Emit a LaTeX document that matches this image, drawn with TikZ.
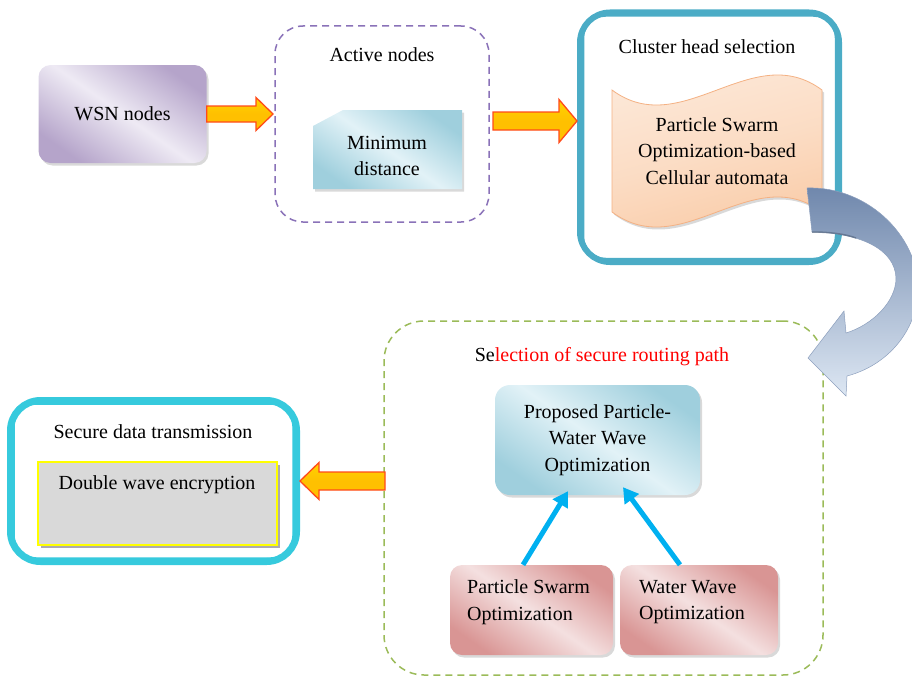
\documentclass[tikz,border=0pt]{standalone}
\usepackage{fontspec}
\setmainfont{Liberation Serif}
\usetikzlibrary{shadows,arrows.meta,calc}
\definecolor{orfill}{HTML}{FFC000}
\definecolor{orline}{HTML}{FF4A1A}
\definecolor{purpD}{HTML}{B5A4CA}
\definecolor{purpL}{HTML}{EEEAF4}
\definecolor{purpdash}{HTML}{8A72B8}
\definecolor{bluD}{HTML}{9FCFDD}
\definecolor{bluL}{HTML}{E2F2F7}
\definecolor{tealc}{HTML}{4BACC6}
\definecolor{tapeL}{HTML}{FDEBDD}
\definecolor{tapeD}{HTML}{F9C7A0}
\definecolor{tapeE}{HTML}{F4B183}
\definecolor{arrD}{HTML}{6F87AC}
\definecolor{arrL}{HTML}{DDE7F3}
\definecolor{grnc}{HTML}{9BBB59}
\definecolor{redD}{HTML}{D99594}
\definecolor{redL}{HTML}{F4E0E0}
\definecolor{skyc}{HTML}{00B0F0}
\definecolor{cyanc}{HTML}{36CADD}
\definecolor{grayf}{HTML}{D9D9D9}
\definecolor{yelc}{HTML}{FFFF00}
\newcommand{\blockarr}[5]{%
  \draw[blockarrow] ($#1+(0,-#3)$) -- ($#2+(#5,-#3)$) -- ($#2+(#5,-#4)$) -- #2
    -- ($#2+(#5,#4)$) -- ($#2+(#5,#3)$) -- ($#1+(0,#3)$) -- cycle;}
\begin{document}
\begin{tikzpicture}[x=1pt,y=-1pt,
  every node/.style={font=\rmfamily\fontsize{20}{26.5}\selectfont, inner sep=0pt},
  softshadow/.style={drop shadow={shadow xshift=2pt, shadow yshift=-2.5pt, opacity=0.3}},
  blockarrow/.style={top color=orfill!70!yellow, bottom color=orfill, middle color=orfill, draw=orline, line width=1.3pt, line join=miter},
  purplebox/.style={rounded corners=12pt, top color=purpD, bottom color=purpD, middle color=purpL, shading angle=-35, softshadow},
  bluebox/.style={top color=bluD, bottom color=bluD, middle color=bluL, shading angle=-35, softshadow},
  redbox/.style={rounded corners=12pt, top color=redD, bottom color=redD, middle color=redL, shading angle=-35, softshadow},
  dashcont/.style={dash pattern=on 7pt off 5pt, line width=1.5pt},
  skyarrow/.style={draw=skyc, line width=5pt, -{Triangle[length=15pt,width=17pt]}},
]
\useasboundingbox (0,0) rectangle (912,677);

% ---------- top row ----------
\node[purplebox, minimum width=168pt, minimum height=98pt] (wsn) at (122.5,114) {WSN nodes};

\node[draw=purpdash, dashcont, rounded corners=28pt, minimum width=214pt, minimum height=196pt] (act) at (382,124) {};
\node (actt) at (382,55) {Active nodes};

\path[bluebox] (313,126) -- (343,110) -- (462,110) -- (462,189) -- (313,189) -- cycle;
\node[align=center, minimum width=149pt, minimum height=79pt] (mind) at (387,156) {Minimum\\distance};

% cluster head box
\node[draw=tealc, line width=6pt, rounded corners=30pt, minimum width=259pt, minimum height=249.5pt] (cl) at (709.5,137.25) {};
\draw[tealc, line width=1.5pt, rounded corners=22pt] ($(cl.north west)+(6.5,6.5)$) rectangle ($(cl.south east)+(-6.5,-6.5)$);
\node (clt) at (707,47) {Cluster head selection};

\shade[top color=tapeL, bottom color=tapeD, middle color=tapeL!60!tapeD, shading angle=15, draw=tapeE, line width=0.8pt, softshadow]
  (612,90) .. controls (682,142) and (752,38) .. (822,90) -- (822,212)
  .. controls (752,160) and (682,264) .. (612,212) -- cycle;
\node[align=center] (psoca) at (717,151) {Particle Swarm\\Optimization-based\\Cellular automata};

% block arrows top
\coordinate (a1s) at (wsn.east);
\coordinate (a1t) at (273,114);
\blockarr{(a1s)}{(a1t)}{8}{16.5}{-17}
\coordinate (a2s) at (493,121);
\coordinate (a2t) at (a2s -| cl.west);
\blockarr{(a2s)}{(a2t)}{9}{21.5}{-18}

% ---------- bottom: selection of secure routing path ----------
\node[draw=grnc, dashcont, rounded corners=40pt, minimum width=439pt, minimum height=354pt] (sel) at (603.5,498) {};
\node (selt) at (602,357) {Se\textcolor{red}{lection of secure routing path}};

\node[bluebox, rounded corners=15pt, minimum width=205pt, minimum height=110pt, align=center] (prop) at (597.5,440) {Proposed Particle-\\Water Wave\\Optimization};

\node[redbox, minimum width=163pt, minimum height=90pt] (psoB) at (531.5,610) {};
\node[anchor=west, align=left] (psoBt) at (467,602) {Particle Swarm\\Optimization};
\node[redbox, minimum width=158pt, minimum height=90pt] (wwoB) at (699,610) {};
\node[anchor=west, align=left] (wwoBt) at (639,602) {Water Wave\\Optimization};

\draw[skyarrow] ($(psoB.north)+(-8.5,0)$) -- ($(prop.south)+(-29.5,-4)$);
\draw[skyarrow] ($(wwoB.north)+(-19,0)$) -- ($(prop.south)+(25.5,-8)$);

% ---------- secure data transmission ----------
\node[draw=cyanc, line width=7pt, rounded corners=30pt, minimum width=286pt, minimum height=161pt] (sec) at (153.5,481) {};
\draw[cyanc, line width=1.5pt, rounded corners=22pt] ($(sec.north west)+(7,7)$) rectangle ($(sec.south east)+(-7,-7)$);
\node (sect) at (153,432) {Secure data transmission};
\node[fill=grayf, draw=yelc, line width=1.2pt, minimum width=239pt, minimum height=83pt,
  drop shadow={shadow xshift=3pt, shadow yshift=-3pt, opacity=0.45, fill=black!60!purpD}] (dwe) at (157.5,503.5) {};
\node (dwet) at (157,485) {Double wave encryption};

\coordinate (a3s) at (385,481);
\coordinate (a3t) at (a3s -| sec.east);
\blockarr{(a3s)}{(a3t)}{9}{18.5}{19}

% ---------- big curved arrow ----------
\begin{scope}
\clip (0,0) rectangle (912,677);
\shade[top color=arrD, bottom color=arrL, draw=arrD!80, line width=0.5pt]
  (807,188) .. controls (870,186) and (922,240) .. (918,295)
  .. controls (914,335) and (885,366) .. (847,376)
  -- (846,396) -- (808,358) -- (844,311) -- (846,333)
  .. controls (872,325) and (896,302) .. (896,278)
  .. controls (895,250) and (862,233) .. (812,232) -- cycle;
\draw[arrD!70!black, line width=1.5pt, opacity=0.6] (812,232) .. controls (830,232) and (845,234) .. (856,238);
\end{scope}
\end{tikzpicture}
\end{document}
